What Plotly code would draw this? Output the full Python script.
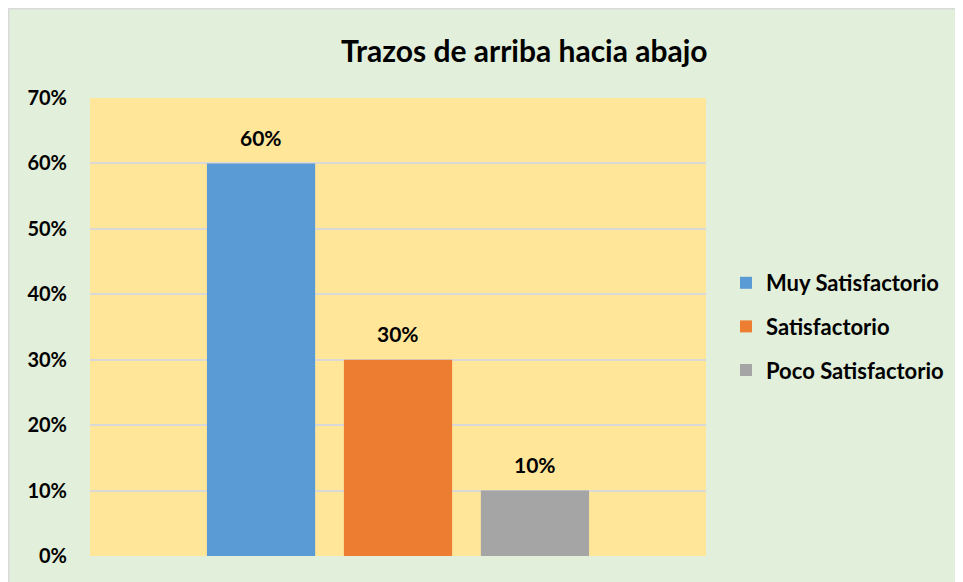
import plotly.graph_objects as go

series = ["Muy Satisfactorio", "Satisfactorio", "Poco Satisfactorio"]
values = [0.60, 0.30, 0.10]
colors = ["#5B9BD5", "#ED7D31", "#A5A5A5"]
title = "Trazos de arriba hacia abajo"
tick_vals = [0, 0.1, 0.2, 0.3, 0.4, 0.5, 0.6, 0.7]
tick_text = ["0%", "10%", "20%", "30%", "40%", "50%", "60%", "70%"]

FONT = "Lato"
OFF = 8  # page body margin
W, H = 963 - OFF, 582 - OFF
L, R, T, B = 90 - OFF, 257, 98 - OFF, 26
pw, ph = W - L - R, H - T - B

def px(x):
    return (x - OFF - L) / pw

def py(y):
    return (H - B - (y - OFF)) / ph

fig = go.Figure()
for i, (s, v, c) in enumerate(zip(series, values, colors)):
    fig.add_trace(go.Bar(
        x=[""], y=[v], name=s, marker=dict(color=c, line=dict(width=0)),
        legendgroup=f"g{i}", hoverinfo="skip",
        text=[f"{v:.0%}"], textposition="none",
        cliponaxis=False,
    ))

annotations = [
    dict(x=0, y=v, xref="x", yref="y", text=f"<b>{v:.0%}</b>", showarrow=False,
         xshift=(i - 1) * 137, yshift=26, yanchor="middle",
         font=dict(family=FONT, size=21, color="#000000"))
    for i, v in enumerate(values)
]
annotations.append(dict(text=f"<b>{title}</b>", xref="paper", yref="paper",
                        x=px(524), y=py(50), xanchor="center", yanchor="middle",
                        showarrow=False,
                        font=dict(family=FONT, size=30, color="#000000")))

shapes = [
    dict(type="line", xref="paper", yref="paper", x0=px(8.5), x1=px(8.5), y0=py(8), y1=py(700),
         line=dict(color="#D9D9D9", width=2), layer="above"),
    dict(type="line", xref="paper", yref="paper", x0=px(8), x1=px(1000), y0=py(8.5), y1=py(8.5),
         line=dict(color="#D9D9D9", width=2), layer="above"),
]

fig.update_layout(
    width=W, height=H,
    margin=dict(l=L, r=R, t=T, b=B),
    paper_bgcolor="#E2EFDA",
    plot_bgcolor="#FFE699",
    barmode="group",
    bargap=0.333,
    bargroupgap=0.21,
    showlegend=True,
    legend=dict(
        x=px(726), y=py(262), xanchor="left", yanchor="top",
        font=dict(family=FONT, size=22, color="#000000", weight="bold"),
        bgcolor="rgba(0,0,0,0)", tracegroupgap=12, itemwidth=30,
    ),
    font=dict(family=FONT, color="#000000"),
    xaxis=dict(showticklabels=False, showgrid=False, zeroline=False,
               showline=False, ticks="", range=[-0.5, 0.5]),
    yaxis=dict(range=[0, 0.7], tickvals=tick_vals, ticktext=tick_text,
               tickfont=dict(family=FONT, size=20, color="#000000", weight="bold"),
               showgrid=True, gridcolor="#D9D9D9", gridwidth=2,
               zeroline=False, showline=False, ticks="", ticklabelstandoff=22),
    annotations=annotations,
    shapes=shapes,
)

fig.write_html("out.html")
